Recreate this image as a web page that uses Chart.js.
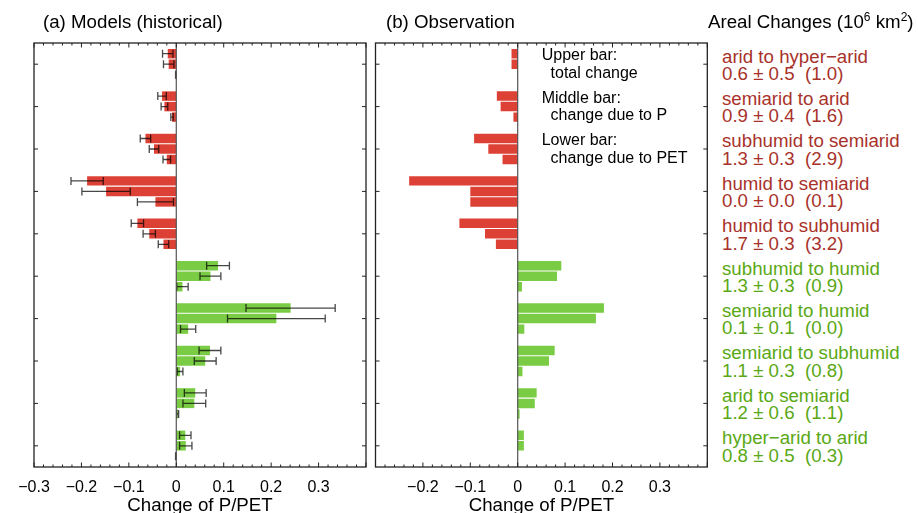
<!DOCTYPE html>
<html>
<head>
<meta charset="utf-8">
<script src="https://cdn.jsdelivr.net/npm/chart.js@4.4.1/dist/chart.umd.min.js"></script>
<style>
  body { margin: 0; background: #fff; font-family: "Liberation Sans", Arial, Helvetica, sans-serif; }
  #page { position: relative; width: 918px; height: 513px; overflow: hidden; }
  canvas { position: absolute; top: 0; }
  #panelA { left: 0; width: 372px; height: 513px; }
  #panelB { left: 370px; width: 342px; height: 513px; }
  .lbl { position: absolute; white-space: pre; line-height: 1; color: #000; }
  .big { font-size: 18.7px; }
  .key { font-size: 16px; line-height: 17.6px; }
  .areal { font-size: 18.7px; line-height: 17.5px; }
  sup { font-size: 12px; line-height: 0; vertical-align: 0.55em; }
</style>
</head>
<body>
<div id="page">
  <canvas id="panelA" width="372" height="513"></canvas>
  <canvas id="panelB" width="342" height="513"></canvas>
  <div class="lbl big" style="left:43px;top:12.5px">(a) Models (historical)</div>
  <div class="lbl big" style="left:386px;top:12.5px">(b) Observation</div>
  <div class="lbl big" style="left:708px;top:12.5px">Areal Changes (10<sup>6</sup> km<sup>2</sup>)</div>
</div>
<script>
// --- Data ---

const transitions = ['arid to hyper\u2212arid', 'semiarid to arid', 'subhumid to semiarid', 'humid to semiarid',
  'humid to subhumid', 'subhumid to humid', 'semiarid to humid', 'semiarid to subhumid', 'arid to semiarid',
  'hyper\u2212arid to arid'];
const arealChanges = ['0.6 \u00b1 0.5  (1.0)', '0.9 \u00b1 0.4  (1.6)', '1.3 \u00b1 0.3  (2.9)', '0.0 \u00b1 0.0  (0.1)',
  '1.7 \u00b1 0.3  (3.2)', '1.3 \u00b1 0.3  (0.9)', '0.1 \u00b1 0.1  (0.0)', '1.1 \u00b1 0.3  (0.8)',
  '1.2 \u00b1 0.6  (1.1)', '0.8 \u00b1 0.5  (0.3)'];
// drying transitions are red, wetting ones green
const drying = [true, true, true, true, true, false, false, false, false, false];

const barNames = ['total change', 'change due to P', 'change due to PET'];
const keyLines = ['Upper bar:\n  total change', 'Middle bar:\n  change due to P', 'Lower bar:\n  change due to PET'];

// (a) models: mean and spread
const modelTotal = [-0.018, -0.030, -0.065, -0.188, -0.082, 0.088, 0.241, 0.071, 0.040, 0.019];
const modelTotalErr = [0.011, 0.009, 0.011, 0.034, 0.013, 0.024, 0.094, 0.023, 0.023, 0.012];
const modelP = [-0.016, -0.025, -0.047, -0.148, -0.057, 0.072, 0.211, 0.061, 0.038, 0.020];
const modelPErr = [0.011, 0.007, 0.010, 0.051, 0.013, 0.022, 0.103, 0.023, 0.024, 0.013];
const modelPET = [-0.001, -0.009, -0.020, -0.044, -0.027, 0.013, 0.025, 0.008, 0.003, -0.001];
const modelPETErr = [0.0005, 0.0025, 0.008, 0.038, 0.011, 0.012, 0.016, 0.006, 0.002, 0.0005];

// (b) observation
const obsTotal = [-0.013, -0.044, -0.092, -0.229, -0.123, 0.092, 0.182, 0.078, 0.040, 0.013];
const obsP = [-0.013, -0.036, -0.062, -0.100, -0.069, 0.083, 0.165, 0.066, 0.036, 0.013];
const obsPET = [-0.001, -0.009, -0.032, -0.100, -0.046, 0.009, 0.014, 0.010, 0.004, 0];

const ticksA = [-0.3, -0.2, -0.1, 0, 0.1, 0.2, 0.3];
const ticksB = [-0.2, -0.1, 0, 0.1, 0.2, 0.3];

// --- Styling ---

const FONT = '"Liberation Sans", Arial, Helvetica, sans-serif';
const RED_BAR = '#dd4034', GREEN_BAR = '#7acc44';
const RED_TEXT = '#a8322a', GREEN_TEXT = '#5aa815';

function fmtTick(v) {
    const r = Math.round(v * 10) / 10;
    if (r === 0) return '0';
    return (r < 0 ? '\u2212' : '') + Math.abs(r).toFixed(1);
}

// error bars for the model panel
const errorBarPlugin = {
    id: 'errorBars',
    afterDatasetsDraw(chart) {
        const ctx = chart.ctx, x = chart.scales.x;
        ctx.save();
        ctx.strokeStyle = 'rgba(0,0,0,0.72)';
        ctx.lineWidth = 1.3;
        chart.data.datasets.forEach((ds, k) => {
            if (!ds.errorBars) return;
            chart.getDatasetMeta(k).data.forEach((bar, i) => {
                const v = ds.data[i], e = ds.errorBars[i];
                const x0 = x.getPixelForValue(v - e), x1 = x.getPixelForValue(v + e);
                const y = bar.y, h = 4;
                ctx.beginPath();
                ctx.moveTo(x0, y); ctx.lineTo(x1, y);
                ctx.moveTo(x0, y - h); ctx.lineTo(x0, y + h);
                ctx.moveTo(x1, y - h); ctx.lineTo(x1, y + h);
                ctx.stroke();
            });
        });
        ctx.restore();
    }
};

// zero line, box and inward tick marks
const framePlugin = {
    id: 'frame',
    afterDraw(chart) {
        const ctx = chart.ctx, a = chart.chartArea;
        const x = chart.scales.x, y = chart.scales.y;
        ctx.save();
        ctx.strokeStyle = '#555';
        ctx.lineWidth = 1.2;
        const x0 = x.getPixelForValue(0);
        ctx.beginPath();
        ctx.moveTo(x0, a.top); ctx.lineTo(x0, a.bottom);
        ctx.stroke();

        ctx.strokeStyle = '#222';
        ctx.lineWidth = 1.3;
        ctx.strokeRect(a.left, a.top, a.right - a.left, a.bottom - a.top);

        ctx.lineWidth = 1;
        ctx.beginPath();
        const steps = Math.round((x.max - x.min) / 0.02);
        for (let s = 0; s <= steps; s++) {
            const px = x.getPixelForValue(x.min + s * 0.02);
            const len = s % 5 === 0 ? 4.5 : 2.5;
            ctx.moveTo(px, a.bottom); ctx.lineTo(px, a.bottom - len);
            ctx.moveTo(px, a.top); ctx.lineTo(px, a.top + len);
        }
        transitions.forEach((_, i) => {
            const py = y.getPixelForValue(i);
            ctx.moveTo(a.left, py); ctx.lineTo(a.left + 4, py);
            ctx.moveTo(a.right, py); ctx.lineTo(a.right - 4, py);
        });
        ctx.stroke();
        ctx.restore();
    }
};

function makePanel(id, series, errors, shownTicks, padding) {
    const barColours = drying.map(d => d ? RED_BAR : GREEN_BAR);
    return new Chart(document.getElementById(id), {
        type: 'bar',
        data: {
            labels: transitions,
            datasets: series.map((values, k) => ({
                label: barNames[k],
                data: values,
                backgroundColor: barColours,
                borderWidth: 0,
                errorBars: errors ? errors[k] : null
            }))
        },
        options: {
            indexAxis: 'y',
            responsive: false,
            animation: false,
            layout: { padding: padding },
            plugins: { legend: { display: false }, tooltip: { enabled: false } },
            datasets: { bar: { categoryPercentage: 0.743, barPercentage: 0.9 } },
            scales: {
                x: {
                    min: -0.3,
                    max: 0.4,
                    grid: { display: false, drawTicks: false },
                    border: { display: false },
                    ticks: {
                        stepSize: 0.1,
                        padding: 11,
                        autoSkip: false,
                        maxRotation: 0,
                        color: '#000',
                        font: { family: FONT, size: 16 },
                        callback: v => shownTicks.some(t => Math.abs(t - v) < 1e-6) ? fmtTick(v) : ''
                    },
                    title: {
                        display: true,
                        text: 'Change of P/PET',
                        color: '#000',
                        padding: 0,
                        font: { family: FONT, size: 18.7, lineHeight: 0.75 }
                    },
                    // fixed axis height; layout padding alone sets the plot box
                    afterFit: s => { s.height = 46; s.paddingLeft = 0; s.paddingRight = 0; }
                },
                y: { display: false }
            }
        },
        plugins: [errorBarPlugin, framePlugin]
    });
}

const chartA = makePanel('panelA', [modelTotal, modelP, modelPET], [modelTotalErr, modelPErr, modelPETErr],
    ticksA, { left: 34, right: 6, top: 43, bottom: 0 });
const chartB = makePanel('panelB', [obsTotal, obsP, obsPET], null,
    ticksB, { left: 5.5, right: 4.7, top: 43, bottom: 0 });

// text blocks aligned to the category rows
const page = document.getElementById('page');
transitions.forEach((name, i) => {
    const c = chartB.scales.y.getPixelForValue(i);
    const div = document.createElement('div');
    div.className = 'lbl areal';
    div.style.left = '722px';
    div.style.top = (c - 16.7) + 'px';
    div.style.color = drying[i] ? RED_TEXT : GREEN_TEXT;
    div.textContent = name + '\n' + arealChanges[i];
    page.appendChild(div);
});
keyLines.forEach((txt, i) => {
    const c = chartB.scales.y.getPixelForValue(i);
    const div = document.createElement('div');
    div.className = 'lbl key';
    div.style.left = '541.7px';
    div.style.top = (c - 17.85) + 'px';
    div.textContent = txt;
    page.appendChild(div);
});
</script>
</body>
</html>
